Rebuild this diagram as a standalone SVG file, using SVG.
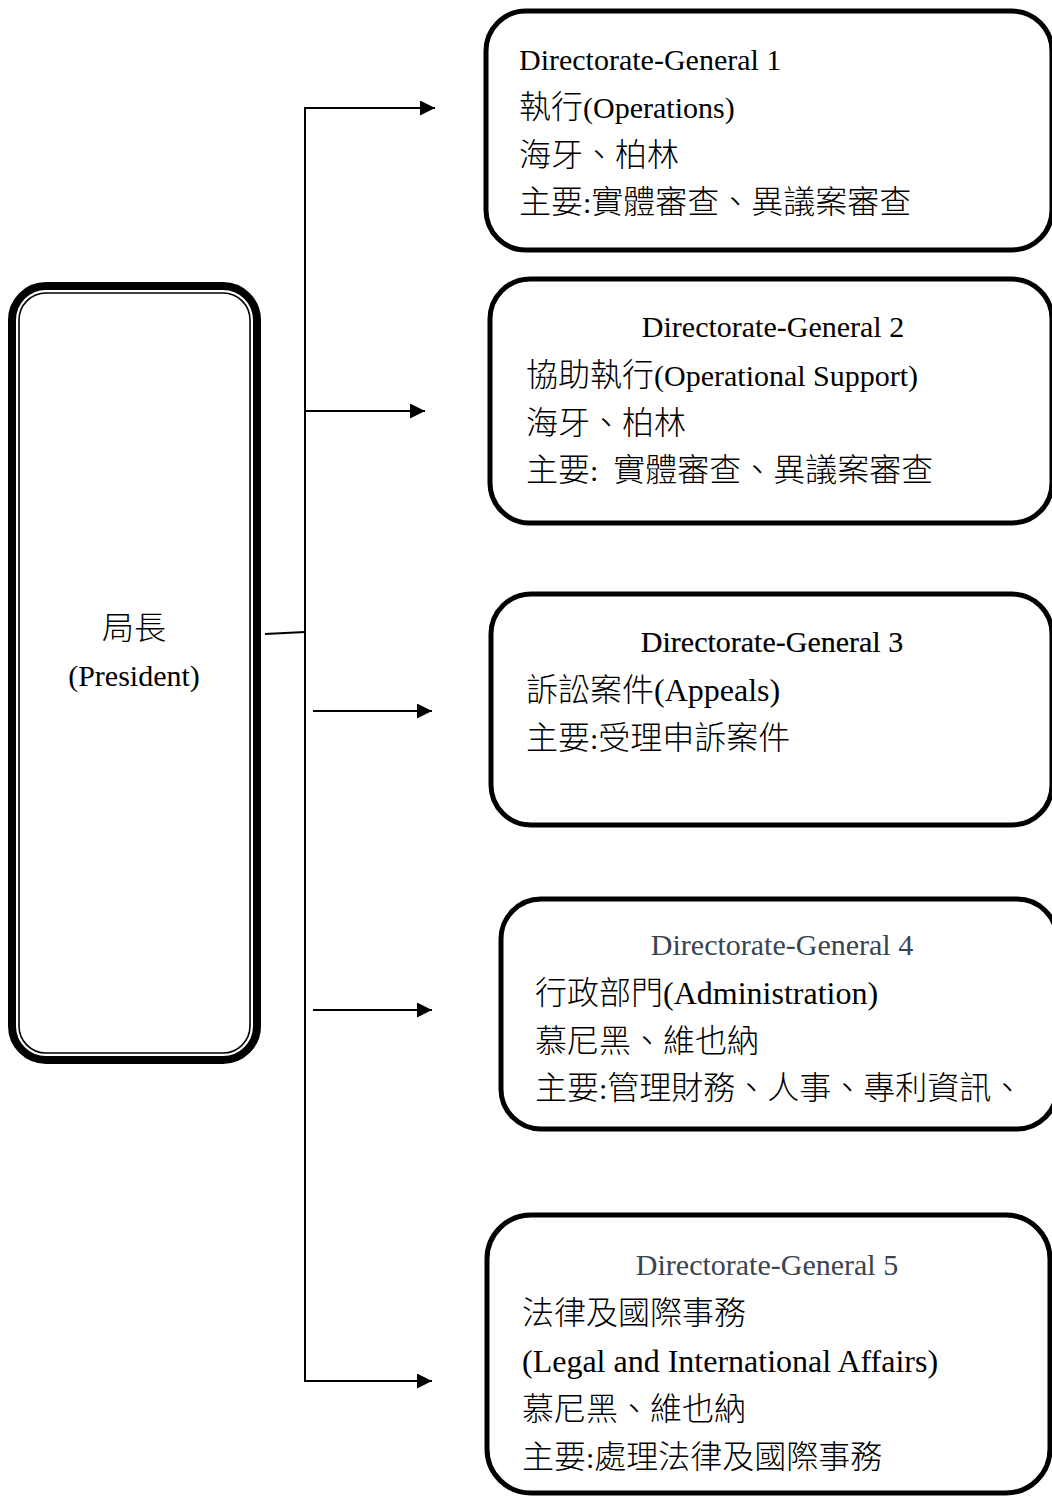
<svg xmlns="http://www.w3.org/2000/svg" width="1052" height="1497" viewBox="0 0 1052 1497">
  <style>
    .box { fill: #ffffff; stroke: #000000; stroke-width: 5; }
    .pres-outer { fill: #ffffff; stroke: #000000; stroke-width: 8; }
    .pres-inner { fill: none; stroke: #000000; stroke-width: 1.6; }
    .wire { fill: none; stroke: #000000; stroke-width: 2; }
    .t { fill: #000000; }
    .c { font-family: "Noto Sans CJK TC", "Noto Sans CJK SC", sans-serif; font-size: 32px; font-weight: 300; }
    .l { font-family: "Liberation Serif", "Times New Roman", serif; font-size: 30px; }
    .L { font-family: "Liberation Serif", "Times New Roman", serif; font-size: 32px; }
    .grey { fill: #3a4450; }
  </style>
  <defs>
    <marker id="arrow" markerUnits="userSpaceOnUse" markerWidth="16" markerHeight="16" refX="15" refY="7.5" orient="auto">
      <path d="M0,0 L15,7.5 L0,15 z" fill="#000000"/>
    </marker>
  </defs>

  <rect width="1052" height="1497" fill="#ffffff"/>

  <!-- connectors -->
  <g id="connectors">
    <line class="wire" x1="265" y1="634" x2="305" y2="632"/>
    <polyline class="wire" points="433,108 305,108 305,1381 432,1381" marker-end="url(#arrow)"/>
    <line class="wire" x1="305" y1="411" x2="425" y2="411" marker-end="url(#arrow)"/>
    <line class="wire" x1="313" y1="711" x2="432" y2="711" marker-end="url(#arrow)"/>
    <line class="wire" x1="313" y1="1010" x2="432" y2="1010" marker-end="url(#arrow)"/>
    <line class="wire" x1="305" y1="108" x2="435" y2="108" marker-end="url(#arrow)"/>
  </g>

  <!-- president -->
  <g id="president">
    <rect class="pres-outer" x="12" y="286" width="245" height="774" rx="34" ry="34"/>
    <rect class="pres-inner" x="19" y="293" width="231" height="760" rx="27" ry="27"/>
    <text class="t c" x="134" y="639" text-anchor="middle">局長</text>
    <text class="t l" x="134" y="686" text-anchor="middle">(President)</text>
  </g>

  <!-- DG1 -->
  <g id="dg1">
    <rect class="box" x="486" y="11" width="566" height="239" rx="40" ry="40"/>
    <text class="t l" x="519" y="70">Directorate-General 1</text>
    <text class="t" x="519" y="118"><tspan class="c">執行</tspan><tspan class="l">(Operations)</tspan></text>
    <text class="t c" x="519" y="166">海牙、柏林</text>
    <text class="t" x="519" y="213"><tspan class="c">主要</tspan><tspan class="l">:</tspan><tspan class="c">實體審查、異議案審查</tspan></text>
  </g>

  <!-- DG2 -->
  <g id="dg2">
    <rect class="box" x="490" y="279" width="562" height="244" rx="40" ry="40"/>
    <text class="t l" x="773" y="337" text-anchor="middle">Directorate-General 2</text>
    <text class="t" x="526" y="386"><tspan class="c">協助執行</tspan><tspan class="l">(Operational Support)</tspan></text>
    <text class="t c" x="526" y="434">海牙、柏林</text>
    <text class="t" x="526" y="481"><tspan class="c">主要</tspan><tspan class="l" xml:space="preserve">:  </tspan><tspan class="c">實體審查、異議案審查</tspan></text>
  </g>

  <!-- DG3 -->
  <g id="dg3">
    <rect class="box" x="491" y="594" width="561" height="231" rx="40" ry="40"/>
    <text class="t l" x="772" y="652" text-anchor="middle" stroke="#000000" stroke-width="0.2">Directorate-General 3</text>
    <text class="t" x="526" y="701"><tspan class="c">訴訟案件</tspan><tspan class="L">(Appeals)</tspan></text>
    <text class="t" x="526" y="749"><tspan class="c">主要</tspan><tspan class="l">:</tspan><tspan class="c">受理申訴案件</tspan></text>
  </g>

  <!-- DG4 -->
  <g id="dg4">
    <rect class="box" x="501" y="899" width="556" height="230" rx="40" ry="40"/>
    <text class="t l grey" x="782" y="955" text-anchor="middle">Directorate-General 4</text>
    <text class="t" x="535" y="1004"><tspan class="c">行政部門</tspan><tspan class="L">(Administration)</tspan></text>
    <text class="t c" x="535" y="1052">慕尼黑、維也納</text>
    <text class="t" x="535" y="1099"><tspan class="c">主要</tspan><tspan class="l">:</tspan><tspan class="c">管理財務、人事、專利資訊、</tspan></text>
  </g>

  <!-- DG5 -->
  <g id="dg5">
    <rect class="box" x="487" y="1215" width="563" height="278" rx="44" ry="44"/>
    <text class="t l grey" x="767" y="1275" text-anchor="middle">Directorate-General 5</text>
    <text class="t c" x="522" y="1324">法律及國際事務</text>
    <text class="t L" x="522" y="1372">(Legal and International Affairs)</text>
    <text class="t c" x="522" y="1420">慕尼黑、維也納</text>
    <text class="t" x="522" y="1468"><tspan class="c">主要</tspan><tspan class="l">:</tspan><tspan class="c">處理法律及國際事務</tspan></text>
  </g>
</svg>
